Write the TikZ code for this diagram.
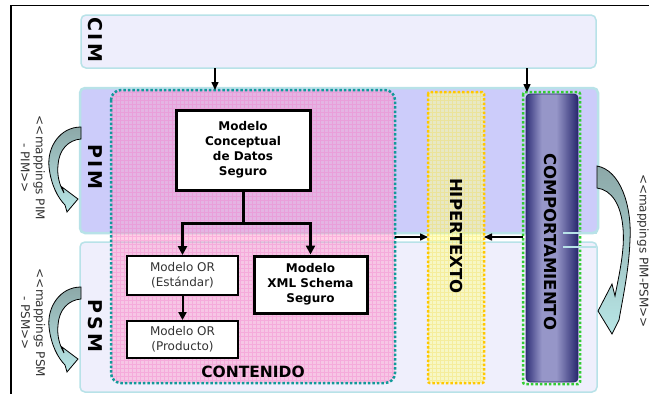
\documentclass[tikz,border=0pt]{standalone}
\usepackage{fontspec}
\setmainfont{DejaVu Sans}
\usetikzlibrary{arrows.meta}

\definecolor{bandedge}{HTML}{B8E2E8}
\definecolor{cimfill}{HTML}{EEEEFC}
\definecolor{pimfill}{HTML}{CCCCFA}
\definecolor{psmfill}{HTML}{EFEFFC}
\definecolor{contpink}{HTML}{FF9ACC}
\definecolor{contgrid}{HTML}{F47ACB}
\definecolor{contdot}{HTML}{119A9A}
\definecolor{hipyellow}{HTML}{FFFF99}
\definecolor{hipgrid}{HTML}{F2DC50}
\definecolor{hipdot}{HTML}{FFC800}
\definecolor{compdot}{HTML}{33CC33}
\definecolor{navyedge}{RGB}{50,50,122}
\definecolor{navylight}{RGB}{150,150,200}
\definecolor{navydark}{RGB}{40,40,110}
\definecolor{curltop}{HTML}{8CA8A8}
\definecolor{curlbot}{HTML}{B8E6E6}
\definecolor{labelgray}{HTML}{333333}
\definecolor{ortext}{HTML}{333333}

% cylinder-like shading for the behaviour column
\pgfdeclarehorizontalshading{cylshade}{100bp}{color(0bp)=(navyedge); color(25bp)=(navyedge); color(40bp)=(navylight); color(54bp)=(navylight); color(75bp)=(navydark); color(100bp)=(navydark)}

\begin{document}
\begin{tikzpicture}[x=1pt,y=-1pt,
  band/.style={draw=bandedge, line width=1.5pt, rounded corners=5pt, anchor=north west, inner sep=0pt, outer sep=0pt},
  region/.style={anchor=north west, inner sep=0pt, outer sep=0pt},
  biglabel/.style={rotate=-90, font=\fontsize{19}{19}\bfseries\addfontfeature{LetterSpace=15}},
  collabel/.style={rotate=-90, font=\fontsize{16.5}{16}\bfseries},
  boxthick/.style={draw=black, line width=3pt, fill=white, inner sep=0pt, align=center, font=\fontsize{12}{15}\bfseries},
  boxthin/.style={draw=black, line width=1.8pt, fill=white, inner sep=0pt, align=center, text=ortext, font=\fontsize{12}{15}\selectfont},
  treearr/.style={line width=3pt, -{Triangle[length=9pt,width=9pt]}},
  arr/.style={line width=1.5pt, -{Triangle[length=8pt,width=7pt]}},
  curl/.style={draw=black, line width=0.8pt, top color=curltop, bottom color=curlbot},
  dotted border/.style={line width=2.5pt, dash pattern=on 2.5pt off 2pt},
  sidelbl/.style={rotate=-90, align=center, text=labelgray, font=\fontsize{12}{15}\selectfont}]

\useasboundingbox (0,0) rectangle (649,394);
\fill[white] (0,0) rectangle (649,394);

% outer frame
\draw[line width=1.8pt] (11,394) -- (11,5.5) -- (649,5.5);

% abstraction levels
\node[band, fill=cimfill, minimum width=515pt, minimum height=53pt] (cim) at (81,15) {};
\node[band, fill=pimfill, line width=2.5pt, minimum width=518pt, minimum height=145pt] (pim) at (80,88) {};
\node[band, fill=psmfill, minimum width=517pt, minimum height=150pt] (psm) at (80,242) {};

\node[biglabel] (cimlbl) at (95,40) {CIM};
\node[biglabel] (pimlbl) at (95,167) {PIM};
\node[biglabel] (psmlbl) at (95,326) {PSM};

% content column
\fill[contpink, fill opacity=0.48, rounded corners=10pt] (111,90) rectangle (395,383);
\begin{scope}
  \clip[rounded corners=10pt] (111,90) rectangle (395,383);
  \draw[contgrid, line width=0.45pt, opacity=0.35, step=4pt] (111,90) grid (395,383);
\end{scope}
\draw[contdot, dotted border, rounded corners=10pt] (111,90) rectangle (395,383);
\node[region, minimum width=284pt, minimum height=293pt] (cont) at (111,90) {};

% hypertext column
\fill[hipyellow, fill opacity=0.55] (428,92) rectangle (484,383);
\begin{scope}
  \clip (428,92) rectangle (484,383);
  \draw[hipgrid, line width=0.45pt, opacity=0.35, step=4pt] (428,92) grid (484,383);
\end{scope}
\draw[hipdot, dotted border, rounded corners=2pt] (428,92) rectangle (484,383);
\node[region, minimum width=56pt, minimum height=291pt] (hip) at (428,92) {};

% behaviour column
\shadedraw[shading=cylshade, draw=navydark, line width=0.8pt, rounded corners=4pt] (526,94) rectangle (578,382);
\draw[compdot, dotted border, rounded corners=2pt] (523,92) rectangle (580,384);
\node[region, minimum width=57pt, minimum height=292pt] (comp) at (523,92) {};

% band edges crossing the behaviour column
\draw[bandedge, line width=1.5pt] (563,233) -- (597,233);
\draw[bandedge, line width=1.5pt] (563,247) -- (596,247);

\node[collabel] (hiptxt) at (457,236) {HIPERTEXTO};
\node[collabel] (comptxt) at (551,242) {COMPORTAMIENTO};
\node[font=\fontsize{15.5}{16}\bfseries] (conttxt) at (253,372) {CONTENIDO};

% models
\node[boxthick, minimum width=134pt, minimum height=80pt] (conc) at (243,150) {Modelo\\Conceptual\\de Datos\\Seguro};
\node[boxthin, minimum width=111pt, minimum height=39pt] (ore) at (182.5,275.5) {Modelo OR\\(Estándar)};
\node[boxthin, minimum width=111pt, minimum height=37pt] (orp) at (182.5,339.5) {Modelo OR\\(Producto)};
\node[boxthick, minimum width=113pt, minimum height=57pt] (xml) at (310.5,284.5) {Modelo\\XML Schema\\Seguro};

\draw[line width=3pt] (conc.south) -- ++(0,32) coordinate (fork);
\draw[treearr] (fork) -| (ore.north);
\draw[treearr] (fork) -| (xml.north);
\draw[line width=2pt, -{Triangle[length=8pt,width=8pt]}] (ore.south) -- (orp.north);

% CIM to lower levels
\coordinate (cx1) at (215,0);
\coordinate (cx2) at (527,0);
\draw[arr] (cim.south -| cx1) -- (cont.north -| cx1);
\draw[arr] (cim.south -| cx2) -- (comp.north -| cx2);

% links into the hypertext column
\coordinate (lvl) at (0,237);
\draw[arr] (cont.east |- lvl) -- (hip.west |- lvl);
\draw[arr] (comp.west |- lvl) -- (hip.east |- lvl);

% mapping arrows
\foreach \dy in {0,160}
  \path[curl, shift={(0,\dy)}] (81,127) .. controls (60,127) and (47,147) .. (49,167)
    .. controls (51,185) and (58,198) .. (65,205) -- (67,212) -- (78,199) -- (62,187) -- (64,193)
    .. controls (59,184) and (57,175) .. (58,165) .. controls (59,150) and (68,140) .. (81,139) -- cycle;

\path[curl] (597,166) .. controls (620,170) and (632,205) .. (630,240)
  .. controls (629,268) and (624,292) .. (619,320) -- (612,334) -- (598,311) -- (612,284) -- (615,296)
  .. controls (619,275) and (625,250) .. (623,228) .. controls (621,205) and (612,190) .. (597,188) -- cycle;

\node[sidelbl] (mpim) at (33,168) {<{}<mappings PIM\\- PIM>{}>};
\node[sidelbl] (mpsm) at (33,323) {<{}<mappings PSM\\- PSM>{}>};
\node[sidelbl] (mpp) at (643,251) {<{}<mappings PIM-PSM>{}>};

\end{tikzpicture}
\end{document}
